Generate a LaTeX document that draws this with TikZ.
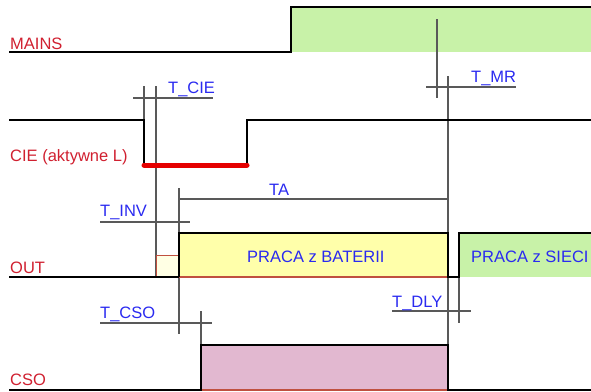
\documentclass[tikz,border=0pt]{standalone}
\usepackage{fontspec}
\setmainfont{Liberation Sans}
\usepackage{xcolor}

\definecolor{sigred}{HTML}{D02030}
\definecolor{tblue}{HTML}{2A2AF0}
\definecolor{mainsgreen}{HTML}{C8F2A8}
\definecolor{battyellow}{HTML}{FFFFAA}
\definecolor{paleyellow}{HTML}{FFFFE4}
\definecolor{csopink}{HTML}{E2B8D0}
\definecolor{edgered}{HTML}{C05040}

\begin{document}
\begin{tikzpicture}[x=1pt, y=-1pt,
  sig/.style={line width=1.8pt, black},
  tick/.style={line width=1.2pt, black!65},
  signame/.style={text=sigred, inner sep=0pt, anchor=base west, font=\fontsize{16.5}{19}\selectfont},
  tname/.style={text=tblue, inner sep=0pt, anchor=base west, font=\fontsize{16.5}{19}\selectfont}]
  \useasboundingbox (0,0) rectangle (591,391);
  % fills
  \fill[mainsgreen] (291,7) rectangle (591,52);
  \fill[paleyellow] (156,255) rectangle (179,277);
  \fill[battyellow] (179,233) rectangle (448,277);
  \fill[mainsgreen] (459,233) rectangle (591,277);
  \fill[csopink] (201,345) rectangle (448,390);
  % time markers
  \draw[tick] (437,19) -- (437,98);
  \draw[tick] (426,87) -- (516,87);
  \draw[tick] (448,76) -- (448,390);
  \draw[tick] (144,86) -- (144,120);
  \draw[tick] (156,86) -- (156,277);
  \draw[tick] (133,98) -- (213,98);
  \draw[tick] (179,188) -- (179,334);
  \draw[tick] (179,199) -- (448,199);
  \draw[tick] (100,222) -- (190,222);
  \draw[tick] (100,323) -- (212,323);
  \draw[tick] (201,311) -- (201,390);
  \draw[tick] (459,232) -- (459,323);
  \draw[tick] (392,311) -- (471,311);
  % signals
  \draw[sig] (9,52) -- (291,52) -- (291,7) -- (591,7);
  \draw[sig] (9,120) -- (144,120) -- (144,164) -- (247,164) -- (247,120) -- (591,120);
  \draw[line width=5pt, red!90!black, line cap=round] (144,165) -- (247,165);
  \draw[line width=1pt, edgered] (156,277) -- (156,255) -- (179,255);
  \draw[line width=1.2pt, edgered] (179,277) -- (448,277);
  \draw[sig] (9,277) -- (179,277);
  \draw[sig] (179,277) -- (179,233) -- (448,233) -- (448,277) -- (459,277) -- (459,233) -- (591,233);
  \draw[line width=1.2pt, edgered] (201,390) -- (448,390);
  \draw[sig] (9,390) -- (201,390) -- (201,345) -- (448,345) -- (448,390) -- (591,390);
  % labels
  \node[signame] (mains) at (10,49) {MAINS};
  \node[signame] (cie) at (10,161) {CIE (aktywne L)};
  \node[signame] (out) at (10,273) {OUT};
  \node[signame] (cso) at (10,385) {CSO};
  \node[tname] (tcie) at (168,93) {T\_CIE};
  \node[tname] (tmr) at (471,82) {T\_MR};
  \node[tname] (ta) at (269,195) {TA};
  \node[tname] (tinv) at (100,216) {T\_INV};
  \node[tname] (tcso) at (100,318) {T\_CSO};
  \node[tname] (tdly) at (392,307) {T\_DLY};
  \node[tname] (batt) at (247,262) {PRACA z BATERII};
  \node[tname] (siec) at (471,262) {PRACA z SIECI};
\end{tikzpicture}
\end{document}
